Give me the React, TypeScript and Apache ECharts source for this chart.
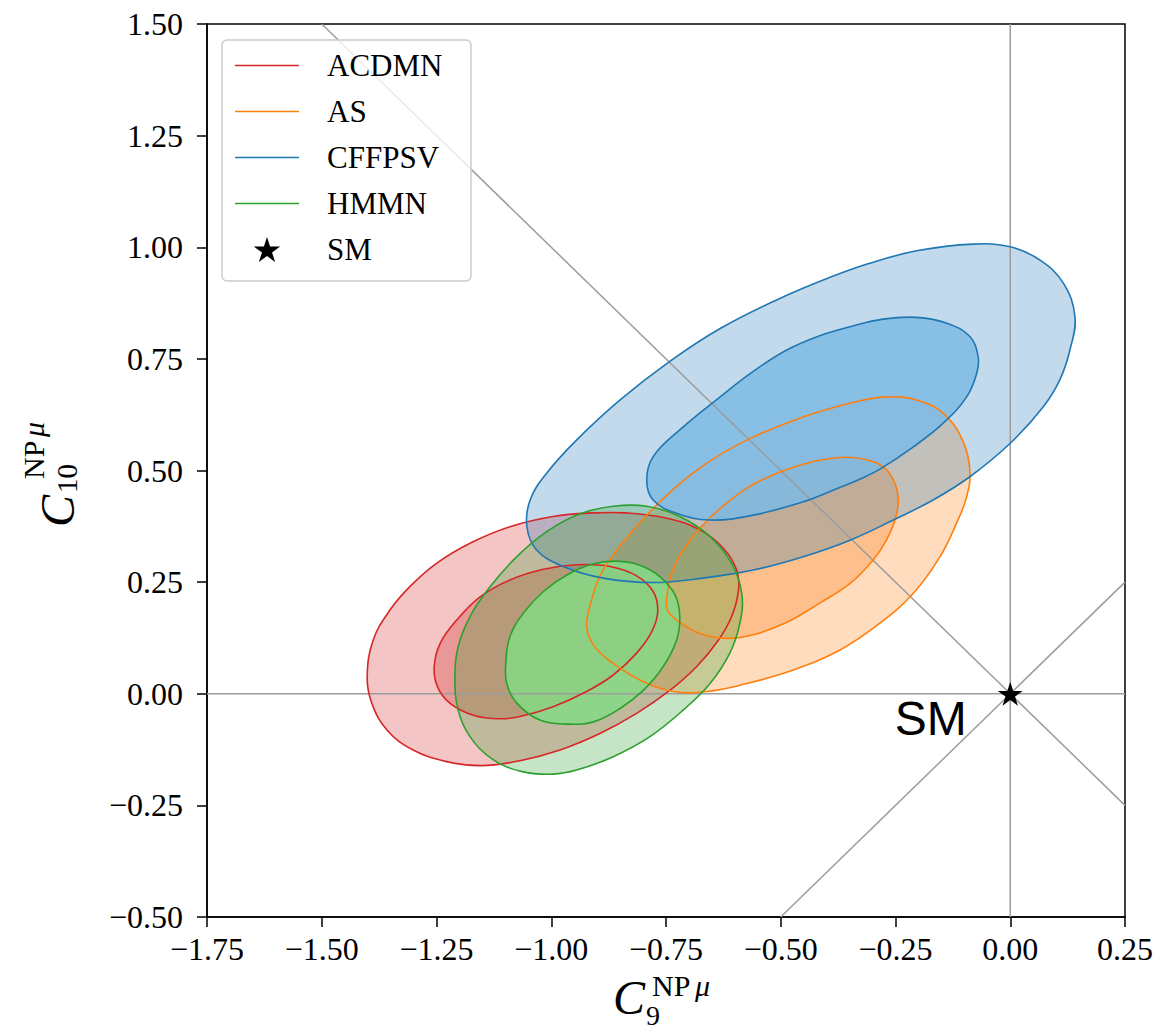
import React, { useEffect, useRef } from "react";
import * as echarts from "echarts";

// ---------- data ----------
type Pt = [number, number];

const acdmnOuter: Pt[] = [
  [-1.401, 0.038], [-1.388, 0.12], [-1.351, 0.188], [-1.308, 0.24], [-1.25, 0.292], [-1.177, 0.337],
  [-1.09, 0.374], [-0.996, 0.397], [-0.908, 0.405], [-0.836, 0.405], [-0.748, 0.393], [-0.676, 0.367],
  [-0.625, 0.326], [-0.596, 0.277], [-0.592, 0.232], [-0.607, 0.173], [-0.636, 0.12], [-0.683, 0.061],
  [-0.741, 0.008], [-0.814, -0.044], [-0.894, -0.089], [-0.981, -0.126], [-1.068, -0.15], [-1.152, -0.161],
  [-1.228, -0.152], [-1.301, -0.126], [-1.358, -0.081], [-1.391, -0.021],
];
const acdmnInner: Pt[] = [
  [-1.255, 0.061], [-1.242, 0.113], [-1.206, 0.165], [-1.155, 0.217], [-1.09, 0.255], [-1.017, 0.279],
  [-0.945, 0.289], [-0.872, 0.285], [-0.814, 0.264], [-0.778, 0.229], [-0.768, 0.184], [-0.781, 0.139],
  [-0.814, 0.091], [-0.865, 0.042], [-0.923, 0.005], [-0.996, -0.029], [-1.068, -0.051], [-1.112, -0.056],
  [-1.17, -0.048], [-1.221, -0.021], [-1.248, 0.016],
];
const asOuter: Pt[] = [
  [-0.923, 0.15], [-0.912, 0.21], [-0.89, 0.272], [-0.842, 0.341], [-0.772, 0.421], [-0.676, 0.506],
  [-0.574, 0.568], [-0.451, 0.62], [-0.327, 0.656], [-0.265, 0.665], [-0.204, 0.658], [-0.146, 0.628],
  [-0.104, 0.568], [-0.088, 0.501], [-0.095, 0.441], [-0.117, 0.382], [-0.153, 0.307], [-0.211, 0.225],
  [-0.284, 0.158], [-0.371, 0.098], [-0.473, 0.053], [-0.574, 0.023], [-0.661, 0.005], [-0.734, 0.005],
  [-0.807, 0.031], [-0.865, 0.068], [-0.905, 0.105],
];
const asInner: Pt[] = [
  [-0.748, 0.217], [-0.738, 0.27], [-0.712, 0.322], [-0.676, 0.371], [-0.618, 0.427], [-0.545, 0.477],
  [-0.451, 0.514], [-0.371, 0.529], [-0.313, 0.524], [-0.269, 0.501], [-0.246, 0.452], [-0.249, 0.397],
  [-0.272, 0.34], [-0.3, 0.298], [-0.349, 0.247], [-0.415, 0.203], [-0.487, 0.16], [-0.56, 0.132],
  [-0.618, 0.124], [-0.676, 0.135], [-0.727, 0.165], [-0.747, 0.188],
];
const cffpsvOuter: Pt[] = [
  [-1.053, 0.374], [-1.046, 0.434], [-1.01, 0.494], [-0.945, 0.568], [-0.85, 0.658], [-0.741, 0.745],
  [-0.632, 0.818], [-0.509, 0.882], [-0.394, 0.932], [-0.31, 0.963], [-0.204, 0.992], [-0.081, 1.007],
  [0.0, 1.001], [0.065, 0.971], [0.116, 0.919], [0.141, 0.844], [0.13, 0.77], [0.108, 0.703],
  [0.072, 0.643], [0.0, 0.561], [-0.088, 0.486], [-0.168, 0.434], [-0.255, 0.389], [-0.349, 0.344],
  [-0.451, 0.307], [-0.56, 0.277], [-0.669, 0.259], [-0.778, 0.249], [-0.887, 0.259], [-0.974, 0.285],
  [-1.032, 0.322],
];
const cffpsvInner: Pt[] = [
  [-0.792, 0.479], [-0.778, 0.531], [-0.72, 0.591], [-0.632, 0.665], [-0.56, 0.722], [-0.487, 0.77],
  [-0.415, 0.802], [-0.349, 0.822], [-0.277, 0.839], [-0.204, 0.843], [-0.138, 0.83], [-0.088, 0.8],
  [-0.07, 0.755], [-0.073, 0.718], [-0.095, 0.665], [-0.146, 0.606], [-0.211, 0.553], [-0.284, 0.503],
  [-0.327, 0.481], [-0.386, 0.456], [-0.451, 0.43], [-0.56, 0.4], [-0.654, 0.389], [-0.727, 0.404],
  [-0.778, 0.434],
];
const hmmnOuter: Pt[] = [
  [-1.21, 0.038], [-1.203, 0.105], [-1.177, 0.173], [-1.133, 0.24], [-1.075, 0.307], [-1.01, 0.363],
  [-0.937, 0.403], [-0.865, 0.42], [-0.792, 0.42], [-0.72, 0.397], [-0.654, 0.352], [-0.607, 0.292],
  [-0.585, 0.225], [-0.589, 0.158], [-0.611, 0.091], [-0.654, 0.023], [-0.712, -0.036], [-0.785, -0.096],
  [-0.865, -0.141], [-0.945, -0.171], [-0.996, -0.18], [-1.061, -0.175], [-1.126, -0.148], [-1.177, -0.096],
  [-1.203, -0.036],
];
const hmmnInner: Pt[] = [
  [-1.099, 0.068], [-1.09, 0.128], [-1.061, 0.18], [-1.017, 0.229], [-0.966, 0.266], [-0.908, 0.291],
  [-0.857, 0.297], [-0.807, 0.288], [-0.763, 0.262], [-0.73, 0.221], [-0.72, 0.173], [-0.727, 0.12],
  [-0.756, 0.061], [-0.799, 0.008], [-0.85, -0.033], [-0.908, -0.063], [-0.966, -0.068], [-1.025, -0.059],
  [-1.075, -0.021], [-1.097, 0.023],
];

const smPoint: Pt[] = [[0, 0]];

const vLine: Pt[] = [[0, -0.5], [0, 1.5]];
const hLine: Pt[] = [[-1.75, 0], [0.25, 0]];
const diagDown: Pt[] = [[-1.5, 1.5], [0.25, -0.25]];
const diagUp: Pt[] = [[-0.5, -0.5], [0.25, 0.25]];

const modelNames = ["ACDMN", "AS", "CFFPSV", "HMMN"];
const modelContours: Pt[][][] = [
  [acdmnOuter, acdmnInner],
  [asOuter, asInner],
  [cffpsvOuter, cffpsvInner],
  [hmmnOuter, hmmnInner],
];

// ---------- styles ----------
// [line colour, ring rgb, core rgb]
const COLORS: Record<string, [string, string, string]> = {
  ACDMN: ["#d62728", "214,39,40", "232,144,143"],
  AS: ["#ff7f0e", "255,127,14", "253,187,132"],
  CFFPSV: ["#1f77b4", "31,119,180", "125,186,228"],
  HMMN: ["#2ca02c", "44,160,44", "134,216,134"],
};
const RING_ALPHA = 0.27;
const CORE_ALPHA = 0.86;
const SERIF = '"Liberation Serif", "Times New Roman", serif';
const SANS = '"Liberation Sans", Arial, sans-serif';
const STAR =
  "path://M50,0 L61.23,34.55 L97.55,34.55 L68.16,55.9 L79.39,90.45 L50,69.1 L20.61,90.45 L31.84,55.9 L2.45,34.55 L38.77,34.55 Z";
const LINE_ICON = "path://M0,0 L64,0 L64,1.5 L0,1.5 Z";
const GREY = "#9c9c9c";

const fmt = (v: number) => {
  const s = Math.abs(v).toFixed(2);
  return v < -1e-9 ? "\u2212" + s : s;
};

function buildOption(): any {
  // pass 1: filled regions; pass 2: contour outlines on top of every fill
  const makeSeries = (outline: boolean) =>
    modelNames.map((name, mi) => {
      const [stroke, ringRgb, coreRgb] = COLORS[name];
      const levels = modelContours[mi];
      return {
        type: "custom",
        name,
        coordinateSystem: "cartesian2d",
        silent: true,
        z: outline ? 4 : 2,
        itemStyle: { color: stroke },
        data: levels.map((_, li) => [li]),
        encode: { x: 0, y: 0 },
        renderItem: (params: any, api: any) => {
          const li = params.dataIndex;
          const pts = levels[li].map((p) => api.coord(p));
          return {
            type: "polygon",
            shape: { points: pts, smooth: 0.4 },
            style: outline
              ? { fill: "none", stroke, lineWidth: 1.6 }
              : {
                  fill: li === 0 ? `rgba(${ringRgb},${RING_ALPHA})` : `rgba(${coreRgb},${CORE_ALPHA})`,
                  stroke: "none",
                },
          };
        },
      };
    });

  const refLine = (id: string, data: Pt[]) => ({
    type: "line",
    name: id,
    data,
    symbol: "none",
    silent: true,
    lineStyle: { color: GREY, width: 1.5 },
    z: 3,
  });

  const axisCommon = {
    type: "value",
    axisLine: { show: true, onZero: false, lineStyle: { color: "#000", width: 1.5 } },
    axisTick: { show: true, inside: false, length: 10, lineStyle: { color: "#000", width: 1.5 } },
    splitLine: { show: false },
  };

  const txt = (x: number, y: number, text: string, size: number, italic: boolean, rot = 0) => ({
    type: "text",
    x,
    y,
    rotation: rot,
    silent: true,
    style: {
      text,
      fontFamily: SERIF,
      fontStyle: italic ? "italic" : "normal",
      fontSize: size,
      fill: "#000",
      align: "left",
      verticalAlign: "middle",
    },
  });
  const R = Math.PI / 2;

  return {
    animation: false,
    backgroundColor: "#fff",
    grid: {
      left: 207,
      right: 32,
      top: 24,
      bottom: 114,
      show: true,
      borderColor: "#000",
      borderWidth: 1.5,
      backgroundColor: "transparent",
    },
    xAxis: {
      ...axisCommon,
      min: -1.75,
      max: 0.25,
      interval: 0.25,
      axisLabel: { margin: 16, fontFamily: SERIF, fontSize: 32, color: "#000", formatter: fmt },
    },
    yAxis: {
      ...axisCommon,
      min: -0.5,
      max: 1.5,
      interval: 0.25,
      axisLabel: { margin: 24, fontFamily: SERIF, fontSize: 32, color: "#000", formatter: fmt },
    },
    legend: {
      orient: "vertical",
      left: 222,
      top: 40,
      padding: [10, 14, 16, 13],
      itemWidth: 64,
      itemHeight: 25,
      itemGap: 15,
      symbolKeepAspect: true,
      selectedMode: false,
      backgroundColor: "rgba(255,255,255,0.8)",
      borderColor: "#cccccc",
      borderWidth: 1.5,
      borderRadius: 5,
      z: 10,
      textStyle: {
        fontFamily: SERIF,
        fontSize: 31,
        color: "#000",
        lineHeight: 31,
        padding: [0, 0, 0, 23],
        width: 130,
      },
      data: [
        ...modelNames.map((n) => ({ name: n, icon: LINE_ICON, itemStyle: { color: COLORS[n][0], opacity: 1 } })),
        { name: "SM", icon: STAR, itemStyle: { color: "#000", opacity: 1 } },
      ],
    },
    graphic: [
      // x-axis title  C_9^{NP mu}
      txt(613, 997, "C", 48, true),
      txt(652, 985, "NP", 30, false),
      txt(695, 985, "\u03bc", 30, true),
      txt(646, 1015, "9", 28, false),
      // y-axis title  C_10^{NP mu}, rotated
      txt(57, 527, "C", 48, true, R),
      txt(67, 493, "10", 29, false, R),
      txt(33, 479, "NP", 30, false, R),
      txt(33, 437, "\u03bc", 30, true, R),
    ],
    series: [
      ...makeSeries(false),
      refLine("ref-v", vLine),
      refLine("ref-h", hLine),
      refLine("ref-d1", diagDown),
      refLine("ref-d2", diagUp),
      ...makeSeries(true),
      {
        type: "scatter",
        name: "SM",
        data: smPoint,
        symbol: STAR,
        symbolSize: 25,
        symbolKeepAspect: true,
        itemStyle: { color: "#000", opacity: 1 },
        z: 5,
        silent: true,
        label: {
          show: true,
          formatter: "SM",
          position: [-31, 37],
          align: "right",
          verticalAlign: "middle",
          fontFamily: SANS,
          fontSize: 48,
          color: "#000",
          opacity: 1,
        },
      },
    ],
  };
}

export default function App() {
  const ref = useRef<HTMLDivElement>(null);
  useEffect(() => {
    if (!ref.current) return;
    const chart = echarts.init(ref.current, null, { renderer: "svg" });
    chart.setOption(buildOption());
    return () => chart.dispose();
  }, []);
  return (
    <div
      ref={ref}
      style={{ position: "fixed", left: 0, top: 0, width: 1157, height: 1031, background: "#fff" }}
    />
  );
}
